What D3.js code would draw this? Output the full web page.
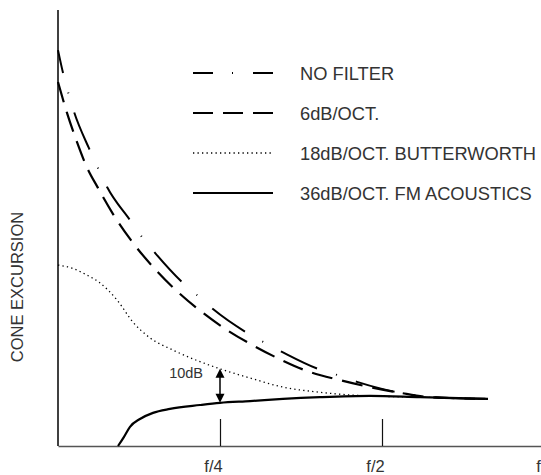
<!DOCTYPE html>
<html>
<head>
<meta charset="utf-8">
<script src="https://cdn.jsdelivr.net/npm/d3@7"></script>
<style>
    body { margin: 0; background: #fff; }
    text { font-family: "Liberation Sans", Arial, Helvetica, sans-serif; fill: #333; }
</style>
</head>
<body>
<svg id="chart" width="541" height="475"></svg>
<script>
// x = frequency as a fraction of f (log axis), y = cone excursion on a 0-100 scale
const seriesNames = ["NO FILTER", "6dB/OCT.", "18dB/OCT. BUTTERWORTH", "36dB/OCT. FM ACOUSTICS"];

const noFilter = [
    [0.125, 90.8], [0.1277, 85.6], [0.1305, 81.2], [0.1339, 76.6], [0.1427, 68.3],
    [0.1483, 63.8], [0.1542, 59.4], [0.1701, 51.8], [0.1791, 47.9], [0.1893, 44.3],
    [0.2125, 37.6], [0.2275, 34.4], [0.2426, 31.4], [0.2794, 26.1], [0.3005, 23.9],
    [0.3259, 21.6], [0.3802, 17.7], [0.4125, 16.3], [0.4493, 14.7], [0.5, 13.1],
    [0.5884, 11.5], [0.6689, 11.0], [0.787, 10.8]
];

const sixDb = [
    [0.125, 83.5], [0.1299, 76.4], [0.1356, 69.7], [0.1409, 64.4], [0.1483, 59.2],
    [0.1582, 53.2], [0.1708, 47.2], [0.1909, 40.1], [0.2089, 35.3], [0.2315, 30.7],
    [0.2576, 26.6], [0.2867, 23.2], [0.3218, 20.0], [0.3628, 17.2], [0.4178, 15.1],
    [0.475, 13.5], [0.54, 12.2], [0.614, 11.2], [0.787, 10.8]
];

const butterworth = [
    [0.125, 41.5], [0.1327, 40.8], [0.1415, 39.2], [0.1496, 37.4], [0.1609, 33.5],
    [0.1723, 28.4], [0.1853, 24.8], [0.2045, 22.0], [0.25, 17.7], [0.2843, 15.6],
    [0.3273, 13.5], [0.3786, 12.4], [0.436, 11.7], [0.5, 11.4], [0.5884, 11.2],
    [0.787, 10.8]
];

const fmAcoustics = [
    [0.1616, 0], [0.1658, 2.1], [0.1701, 4.4], [0.1775, 6.2], [0.1877, 7.6],
    [0.2018, 8.5], [0.2295, 9.4], [0.25, 9.9], [0.2843, 10.3], [0.3273, 10.8],
    [0.3834, 11.2], [0.475, 11.5], [0.5884, 11.2], [0.787, 10.8]
];

const tickValues = [0.25, 0.5, 1];
const tickLabels = ["f/4", "f/2", "f"];
const yLabel = "CONE EXCURSION";
const gapLabel = "10dB";
const gapAt = 0.25; // frequency where the 10dB gap is marked

const seriesData = [noFilter, sixDb, butterworth, fmAcoustics];

// line looks, one per series (curve dashes are longer than the legend ones)
const styles = [
    { width: 2, dash: "40,20,1,20", offset: 16.5, legendDash: "20,19,1,20" },
    { width: 2.2, dash: "21,10", offset: 0, legendDash: "20,10" },
    { width: 1.3, dash: "1.3,3.2", offset: 0, legendDash: "1.3,3.2" },
    { width: 2.2, dash: null, offset: 0, legendDash: null }
];

const svg = d3.select('#chart');
const plotLeft = 58, plotTop = 10, plotBottom = 446, plotRight = 544;

const x = d3.scaleLog().domain([0.125, 1]).range([plotLeft, plotRight]);
const y = d3.scaleLinear().domain([0, 100]).range([plotBottom, plotTop]);

// x axis with inward ticks
const xAxis = d3.axisBottom(x)
    .tickValues(tickValues)
    .tickFormat((d, i) => tickLabels[i])
    .tickSizeInner(-27)
    .tickSizeOuter(0)
    .tickPadding(14);

const gx = svg.append('g')
    .attr('transform', `translate(0,${plotBottom})`)
    .call(xAxis);
gx.select('.domain').attr('stroke', '#555').attr('stroke-width', 1.3);
gx.selectAll('.tick line').attr('stroke', '#111').attr('stroke-width', 1.2);
gx.selectAll('.tick text')
    .attr('dx', (d, i) => i === tickValues.length - 1 ? -6 : -7)
    .style('font-size', '16.5px')
    .style('font-family', '"Liberation Sans", Arial, sans-serif')
    .attr('fill', '#333');

// y axis: plain line, no ticks
svg.append('line')
    .attr('x1', plotLeft).attr('x2', plotLeft)
    .attr('y1', plotTop).attr('y2', plotBottom)
    .attr('stroke', '#000')
    .attr('stroke-width', 1.5);

svg.append('text')
    .attr('transform', `translate(23,287) rotate(-90)`)
    .attr('text-anchor', 'middle')
    .style('font-size', '16.5px')
    .text(yLabel);

// curves
const line = d3.line()
    .x(d => x(d[0]))
    .y(d => y(d[1]))
    .curve(d3.curveMonotoneX);

seriesData.forEach((data, i) => {
    const st = styles[i];
    svg.append('path')
        .datum(data)
        .attr('d', line)
        .attr('fill', 'none')
        .attr('stroke', '#000')
        .attr('stroke-width', st.width)
        .attr('stroke-dasharray', st.dash)
        .attr('stroke-dashoffset', st.offset);
});

// 10dB gap marker between butterworth and FM acoustics
const gapTop = y(butterworth.find(d => d[0] === gapAt)[1]);
const gapBottom = y(fmAcoustics.find(d => d[0] === gapAt)[1]);
const gapX = x(gapAt);

svg.append('line')
    .attr('x1', gapX).attr('x2', gapX)
    .attr('y1', gapTop + 6).attr('y2', gapBottom - 6)
    .attr('stroke', '#000')
    .attr('stroke-width', 1.5);

svg.append('path')
    .attr('d', `M${gapX},${gapTop}L${gapX - 4.5},${gapTop + 9}L${gapX + 4.5},${gapTop + 9}Z`)
    .attr('fill', '#000');
svg.append('path')
    .attr('d', `M${gapX},${gapBottom}L${gapX - 4.5},${gapBottom - 9}L${gapX + 4.5},${gapBottom - 9}Z`)
    .attr('fill', '#000');

svg.append('text')
    .attr('x', gapX - 17)
    .attr('y', gapTop + 9)
    .attr('text-anchor', 'end')
    .style('font-size', '14.5px')
    .text(gapLabel);

// legend
const legend = svg.append('g').attr('transform', 'translate(193,73)');
seriesNames.forEach((name, i) => {
    const st = styles[i];
    const row = legend.append('g').attr('transform', `translate(0,${i * 40})`);
    row.append('line')
        .attr('x1', 0).attr('x2', 80)
        .attr('stroke', '#000')
        .attr('stroke-width', st.width)
        .attr('stroke-dasharray', st.legendDash);
    row.append('text')
        .attr('x', 107)
        .attr('y', 6.5)
        .style('font-size', '18.3px')
        .text(name);
});
</script>
</body>
</html>
